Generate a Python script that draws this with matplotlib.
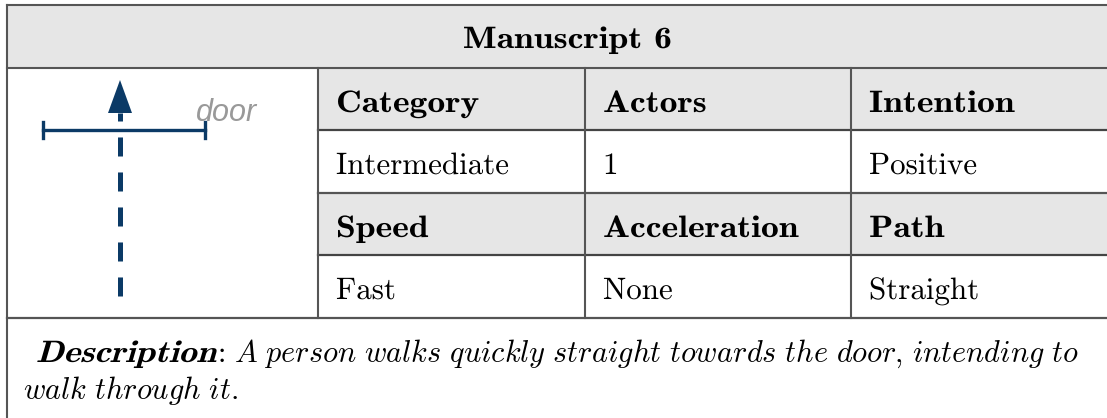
import numpy as np
import matplotlib
import matplotlib.pyplot as plt
from matplotlib.patches import Rectangle, Polygon, PathPatch
from matplotlib.textpath import TextPath
from matplotlib.font_manager import FontProperties
from matplotlib.transforms import Affine2D
import os

plt.rcParams['mathtext.fontset'] = 'cm'
plt.rcParams['lines.scale_dashes'] = False

title = "Manuscript 6"
header_rows = [["Category", "Actors", "Intention"],
               ["Speed", "Acceleration", "Path"]]
value_rows = [["Intermediate", "1", "Positive"],
              ["Fast", "None", "Straight"]]
desc_label = "Description"
desc_line1 = "A person walks quickly straight towards the door, intending to"
desc_line2 = "walk through it."
icon_label = "door"

W, H = 1107, 418
fig = plt.figure(figsize=(W / 100, H / 100), dpi=100)
ax = fig.add_axes([0, 0, 1, 1])
ax.set_xlim(0, W)
ax.set_ylim(H, 0)
ax.axis('off')

grey = '#e6e6e6'
line_c = '#555555'
navy = '#0b3a66'
cm_dir = os.path.join(matplotlib.get_data_path(), 'fonts', 'ttf')
rm = FontProperties(fname=os.path.join(cm_dir, 'cmr10.ttf'))
bf = FontProperties(fname=os.path.join(cm_dir, 'cmb10.ttf'))
EM = 31  # px


def ptext(x, y, s, prop, size=EM, stretch=1.0, skew=0, ha='left'):
    tp = TextPath((0, 0), s, size=size, prop=prop)
    w = tp.get_extents().width * stretch
    if ha == 'center':
        x = x - w / 2
    tr = Affine2D().skew_deg(skew, 0).scale(stretch, -1).translate(x, y)
    ax.add_patch(PathPatch(tr.transform_path(tp), fc='black', ec='none', lw=0))
    return x + w


def mathit(s):
    return r'$\mathit{' + s.replace(',', '{,}').replace(' ', r'\ ') + '}$'


x0, x1 = 7, W
cols = [318, 585, 851, W]
rows = [68, 130, 193, 255, 318]
top = 5

# title band
ax.add_patch(Rectangle((x0, top), x1 - x0, rows[0] - top, fc=grey, ec='none'))
ptext(566, 48, title, bf, stretch=1.15, ha='center')

# header / value cells
for i in range(2):
    yh0, yh1 = rows[2 * i], rows[2 * i + 1]
    yv0, yv1 = rows[2 * i + 1], rows[2 * i + 2]
    ax.add_patch(Rectangle((cols[0], yh0), cols[-1] - cols[0], yh1 - yh0,
                           fc=grey, ec='none'))
    for j in range(3):
        ptext(cols[j] + 18, (yh0 + yh1) / 2 + 13, header_rows[i][j], bf,
              stretch=1.15)
        ptext(cols[j] + 18, (yv0 + yv1) / 2 + 12.5, value_rows[i][j], rm)

# grid lines
ax.plot([x0, x1], [top, top], color=line_c, lw=1.5)
ax.plot([x0, x1], [rows[0], rows[0]], color=line_c, lw=1.5)
for k, y in enumerate(rows[1:]):
    xs = x0 if y == rows[-1] else cols[0]
    ax.plot([xs, x1], [y, y], color='#444444' if k % 2 == 0 else line_c, lw=1.6)
ax.plot([x0, x0], [top, H], color=line_c, lw=1.5)
for c in cols[:-1]:
    ax.plot([c, c], [rows[0], rows[-1]], color=line_c, lw=1.5)

# icon: door and dashed arrow
ax.plot([120, 120], [296, 113], color=navy, lw=3.6, dashes=(13.7, 11.5),
        solid_capstyle='butt', dash_capstyle='butt')
ax.add_patch(Polygon([[120, 80], [108, 113], [132, 113]], closed=True,
                     fc=navy, ec='none'))
ax.plot([43, 205], [130, 130], color=navy, lw=2.4)
ax.plot([43, 43], [122, 138], color=navy, lw=2.4)
ax.plot([205, 205], [122, 138], color=navy, lw=2.4)
ax.text(196, 121, icon_label, family='Liberation Sans', style='italic',
        color='#999999', fontsize=22, ha='left', va='baseline')

# description
xe = ptext(36, 362, desc_label, bf, stretch=1.15, skew=14)
xe = ptext(xe + 3, 362, ':', rm)
ax.text(xe + 13, 362, mathit(desc_line1), fontsize=21.8, va='baseline')
ax.text(23, 399, mathit(desc_line2), fontsize=21.8, va='baseline')

fig.savefig('out.png', dpi=100)
